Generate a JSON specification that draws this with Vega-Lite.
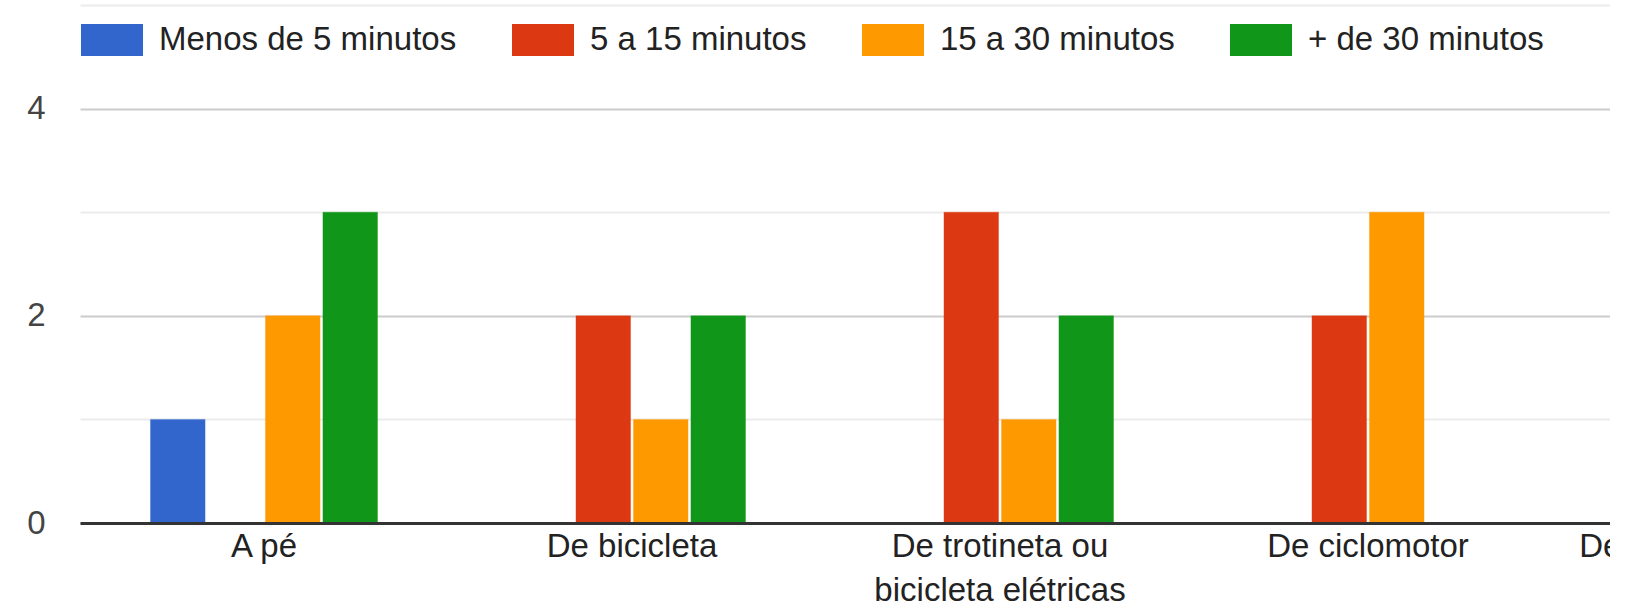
{
  "$schema": "https://vega.github.io/schema/vega-lite/v6.json",
  "width": 1530,
  "height": 518,
  "autosize": {"type": "none"},
  "padding": {"left": 80, "top": 5, "right": 0, "bottom": 87},
  "background": "white",
  "config": {"view": {"stroke": null}, "font": "Liberation Sans"},
  "data": {
    "values": [
      {"modo": "A pé", "tempo": "Menos de 5 minutos", "n": 1},
      {"modo": "A pé", "tempo": "5 a 15 minutos", "n": 0},
      {"modo": "A pé", "tempo": "15 a 30 minutos", "n": 2},
      {"modo": "A pé", "tempo": "+ de 30 minutos", "n": 3},
      {"modo": "De bicicleta", "tempo": "Menos de 5 minutos", "n": 0},
      {"modo": "De bicicleta", "tempo": "5 a 15 minutos", "n": 2},
      {"modo": "De bicicleta", "tempo": "15 a 30 minutos", "n": 1},
      {"modo": "De bicicleta", "tempo": "+ de 30 minutos", "n": 2},
      {"modo": "De trotineta ou bicicleta elétricas", "tempo": "Menos de 5 minutos", "n": 0},
      {"modo": "De trotineta ou bicicleta elétricas", "tempo": "5 a 15 minutos", "n": 3},
      {"modo": "De trotineta ou bicicleta elétricas", "tempo": "15 a 30 minutos", "n": 1},
      {"modo": "De trotineta ou bicicleta elétricas", "tempo": "+ de 30 minutos", "n": 2},
      {"modo": "De ciclomotor", "tempo": "Menos de 5 minutos", "n": 0},
      {"modo": "De ciclomotor", "tempo": "5 a 15 minutos", "n": 2},
      {"modo": "De ciclomotor", "tempo": "15 a 30 minutos", "n": 3},
      {"modo": "De ciclomotor", "tempo": "+ de 30 minutos", "n": 0}
    ]
  },
  "mark": {"type": "bar", "strokeWidth": 1, "strokeOpacity": 0.35},
  "encoding": {
    "x": {
      "field": "modo",
      "type": "nominal",
      "sort": null,
      "scale": {
        "domain": ["A pé", "De bicicleta", "De trotineta ou bicicleta elétricas", "De ciclomotor", "De transporte público"],
        "range": [0, 1840],
        "paddingInner": 0.383,
        "paddingOuter": 0.1915
      },
      "axis": {
        "title": null,
        "labelAngle": 0,
        "labelFontSize": 33,
        "labelColor": "#222222",
        "labelPadding": 7,
        "labelLineHeight": 44,
        "labelLimit": 600,
        "labelOverlap": false,
        "labelExpr": "datum.label == 'De trotineta ou bicicleta elétricas' ? ['De trotineta ou', 'bicicleta elétricas'] : datum.label",
        "ticks": false,
        "grid": false,
        "domainColor": "#333333",
        "domainWidth": 3,
        "zindex": 1
      }
    },
    "xOffset": {
      "field": "tempo",
      "type": "nominal",
      "scale": {
        "domain": ["Menos de 5 minutos", "5 a 15 minutos", "15 a 30 minutos", "+ de 30 minutos"],
        "paddingInner": 0.05,
        "paddingOuter": 0
      }
    },
    "y": {
      "field": "n",
      "type": "quantitative",
      "scale": {"domain": [0, 5], "nice": false},
      "axis": {
        "title": null,
        "values": [0, 1, 2, 3, 4, 5],
        "labelExpr": "datum.value % 2 == 0 && datum.value < 5 ? datum.label : ''",
        "gridColor": {"condition": {"test": "datum.value % 2 == 0", "value": "#cccccc"}, "value": "#ebebeb"},
        "gridWidth": 2,
        "ticks": false,
        "domain": false,
        "labelFontSize": 33,
        "labelColor": "#444444",
        "labelPadding": 35
      }
    },
    "color": {
      "field": "tempo",
      "type": "nominal",
      "scale": {
        "domain": ["Menos de 5 minutos", "5 a 15 minutos", "15 a 30 minutos", "+ de 30 minutos"],
        "range": ["#3366cc", "#dc3912", "#ff9900", "#109618"]
      },
      "legend": {
        "orient": "none",
        "legendX": 1,
        "legendY": 4,
        "direction": "horizontal",
        "title": null,
        "symbolType": "M-1,-0.516H1V0.516H-1Z",
        "symbolSize": 3844,
        "symbolStrokeWidth": 0,
        "symbolOpacity": 1,
        "labelFontSize": 33,
        "labelColor": "#222222",
        "labelOffset": 16,
        "columnPadding": 55,
        "padding": 0,
        "labelLimit": 600
      }
    },
    "stroke": {
      "field": "tempo",
      "type": "nominal",
      "scale": {
        "domain": ["Menos de 5 minutos", "5 a 15 minutos", "15 a 30 minutos", "+ de 30 minutos"],
        "range": ["#3366cc", "#dc3912", "#ff9900", "#109618"]
      },
      "legend": null
    }
  }
}
